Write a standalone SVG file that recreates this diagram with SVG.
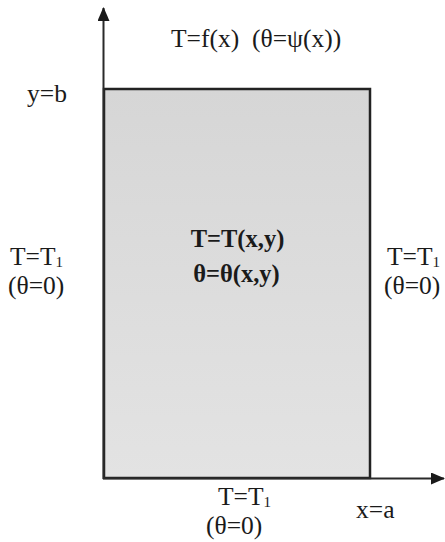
<svg xmlns="http://www.w3.org/2000/svg" width="445" height="542" viewBox="0 0 445 542">
<style>
text{font-family:'Liberation Serif','Tinos','Times New Roman','DejaVu Serif',serif;font-size:25.5px;fill:#1a1a1a}
.b{font-weight:bold;font-size:24.5px}
.sub{font-size:15px}
.axis{stroke:#2a2a2a;stroke-width:2;fill:none}
</style>
<defs>
<linearGradient id="g" x1="0" y1="0" x2="0" y2="1">
<stop offset="0" stop-color="#d6d6d6"/>
<stop offset="1" stop-color="#e3e3e3"/>
</linearGradient>
<marker id="ah" viewBox="0 0 14 12" refX="13" refY="6" markerWidth="14" markerHeight="12" markerUnits="userSpaceOnUse" orient="auto">
<path d="M0,0 L14,6 L0,12 Z" fill="#1a1a1a"/>
</marker>
</defs>
<rect width="445" height="542" fill="#ffffff"/>
<g id="region">
<rect x="104" y="89" width="266" height="389" fill="url(#g)" stroke="#222" stroke-width="2.5"/>
</g>
<g id="connectors">
<line class="axis" x1="103.5" y1="479" x2="103.5" y2="8" marker-end="url(#ah)"/>
<line class="axis" x1="103" y1="478.5" x2="444" y2="478.5" marker-end="url(#ah)"/>
</g>
<g id="label-top"><text x="171" y="47" font-family="Liberation Serif, serif" xml:space="preserve">T=f(x)  (θ=ψ(x))</text></g>
<g id="label-yb"><text x="27" y="102" font-family="Liberation Serif, serif">y=b</text></g>
<g id="label-left"><text x="10" y="265" font-family="Liberation Serif, serif">T=T<tspan class="sub" dy="2">1</tspan></text><text x="8" y="294" font-family="Liberation Serif, serif">(θ=0)</text></g>
<g id="label-right"><text x="387" y="265" font-family="Liberation Serif, serif">T=T<tspan class="sub" dy="2">1</tspan></text><text x="384" y="294" font-family="Liberation Serif, serif">(θ=0)</text></g>
<g id="label-center"><text class="b" x="237.5" y="247" text-anchor="middle" font-family="Liberation Serif, serif">T=T(x,y)</text><text class="b" x="236.5" y="282" text-anchor="middle" font-family="Liberation Serif, serif">θ=θ(x,y)</text></g>
<g id="label-bottom"><text x="218" y="505" font-family="Liberation Serif, serif">T=T<tspan class="sub" dy="2">1</tspan></text><text x="206" y="534" font-family="Liberation Serif, serif">(θ=0)</text></g>
<g id="label-xa"><text x="356" y="518" font-family="Liberation Serif, serif">x=a</text></g>
</svg>
